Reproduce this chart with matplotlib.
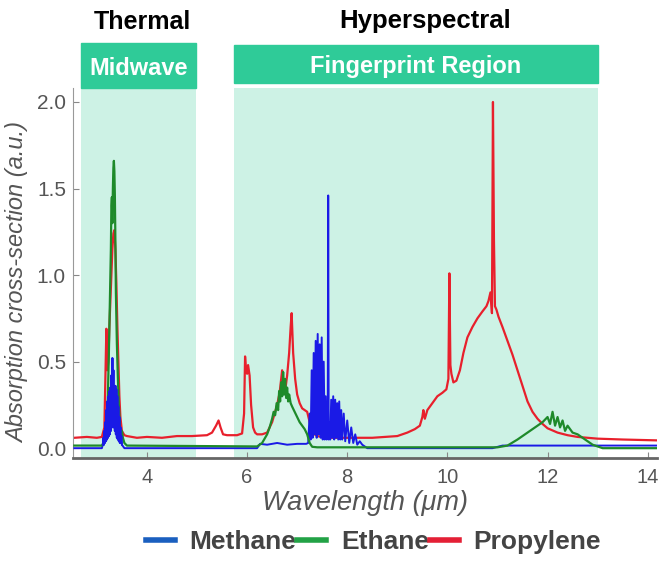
import matplotlib
matplotlib.use("Agg")
import matplotlib.pyplot as plt
from matplotlib.patches import Rectangle
from matplotlib.lines import Line2D
import matplotlib.transforms as mtransforms

plt.rcParams['font.family'] = ['Liberation Sans', 'DejaVu Sans']

# --- data (wavelength in um, cross-section in a.u.) ---
methane_x = [2.55, 3.10, 3.12, 3.13, 3.14, 3.15, 3.16, 3.17, 3.18, 3.19, 3.20, 3.21, 3.22, 3.23,
             3.24, 3.25, 3.26, 3.27, 3.28, 3.29, 3.30, 3.31, 3.32, 3.33, 3.34, 3.35, 3.36, 3.37,
             3.38, 3.39, 3.40, 3.41, 3.42, 3.43, 3.44, 3.45, 3.46, 3.47, 3.48, 3.49, 3.50, 3.55,
             6.20, 6.26, 6.40, 6.60, 6.80, 7.00, 7.18, 7.22, 7.25, 7.27, 7.29, 7.31, 7.33, 7.35,
             7.37, 7.39, 7.41, 7.43, 7.45, 7.47, 7.49, 7.51, 7.53, 7.55, 7.57, 7.59, 7.61,
             7.62, 7.63, 7.64, 7.66, 7.68, 7.70, 7.72, 7.74, 7.76, 7.78, 7.80, 7.82, 7.84,
             7.86, 7.88, 7.90, 7.93, 7.96, 8.00, 8.04, 8.08, 8.12, 8.16, 8.20, 8.25, 8.30,
             8.40, 10.9, 11.1, 14.2]
methane_y = [0.000, 0.000, 0.020, 0.060, 0.020, 0.100, 0.030, 0.150, 0.040, 0.220, 0.050, 0.270, 0.060, 0.300,
             0.070, 0.330, 0.080, 0.350, 0.100, 0.420, 0.120, 0.520, 0.150, 0.450, 0.120, 0.330, 0.100, 0.360,
             0.080, 0.340, 0.060, 0.300, 0.050, 0.240, 0.040, 0.180, 0.030, 0.120, 0.030, 0.070, 0.020, 0.000,
             0.000, 0.025, 0.020, 0.030, 0.020, 0.025, 0.025, 0.030, 0.200, 0.050, 0.450, 0.060, 0.550, 0.080,
             0.620, 0.060, 0.660, 0.080, 0.600, 0.060, 0.640, 0.050, 0.500, 0.050, 0.300, 0.050, 0.100,
             1.460, 0.050, 0.150, 0.050, 0.280, 0.060, 0.300, 0.050, 0.280, 0.060, 0.260, 0.050, 0.270,
             0.050, 0.220, 0.050, 0.200, 0.040, 0.160, 0.030, 0.120, 0.030, 0.080, 0.020, 0.040, 0.020,
             0.000, 0.000, 0.015, 0.015]

ethane_x = [2.55, 3.10, 3.15, 3.18, 3.20, 3.22, 3.24, 3.26, 3.28, 3.29, 3.30, 3.31, 3.32, 3.33,
            3.34, 3.35, 3.36, 3.37, 3.38, 3.40, 3.42, 3.44, 3.46, 3.48, 3.50, 3.52, 3.55, 3.60,
            6.20, 6.30, 6.40, 6.45, 6.50, 6.53, 6.56, 6.59, 6.62, 6.64, 6.66, 6.68, 6.70, 6.72,
            6.74, 6.76, 6.78, 6.80, 6.82, 6.84, 6.87, 6.90, 6.95, 7.00, 7.05, 7.10, 7.15, 7.20,
            7.25, 7.30, 7.40,
            11.0, 11.2, 11.4, 11.6, 11.8, 11.9, 12.0, 12.05, 12.1, 12.15, 12.2, 12.25, 12.3,
            12.35, 12.4, 12.5, 12.6, 12.7, 12.8, 12.9, 13.0, 13.1, 14.2]
ethane_y = [0.015, 0.015, 0.040, 0.080, 0.150, 0.300, 0.550, 0.850, 1.150, 1.400, 1.450, 1.300, 1.500, 1.620,
            1.660, 1.600, 1.450, 1.200, 0.900, 0.600, 0.400, 0.250, 0.120, 0.080, 0.100, 0.060, 0.030, 0.015,
            0.010, 0.030, 0.080, 0.120, 0.170, 0.210, 0.190, 0.260, 0.220, 0.330, 0.270, 0.380, 0.300, 0.440,
            0.310, 0.400, 0.290, 0.350, 0.270, 0.310, 0.260, 0.240, 0.210, 0.180, 0.150, 0.130, 0.110, 0.080,
            0.030, 0.008, 0.005,
            0.005, 0.015, 0.050, 0.090, 0.130, 0.150, 0.180, 0.140, 0.210, 0.130, 0.180, 0.120, 0.160,
            0.100, 0.130, 0.090, 0.080, 0.060, 0.040, 0.020, 0.010, 0.000, 0.000]

propylene_x = [2.55, 2.80, 3.00, 3.10, 3.15, 3.17, 3.19, 3.21, 3.23, 3.25, 3.27, 3.29, 3.31, 3.33,
               3.35, 3.37, 3.39, 3.41, 3.43, 3.45, 3.47, 3.50, 3.55, 3.60, 3.80, 4.00, 4.30, 4.60,
               4.90, 5.20, 5.30, 5.38, 5.43, 5.47, 5.52, 5.60, 5.80, 5.90, 5.94, 5.96, 5.98, 6.00,
               6.02, 6.05, 6.08, 6.12, 6.16, 6.20, 6.30, 6.40, 6.45, 6.50, 6.55, 6.60, 6.65, 6.70,
               6.73, 6.76, 6.80, 6.84, 6.87, 6.89, 6.92, 6.96, 7.00, 7.05, 7.10, 7.15, 7.20, 7.25,
               7.30, 7.40, 7.60, 8.00, 8.50, 9.00, 9.20, 9.35, 9.45, 9.50, 9.52, 9.55, 9.60, 9.70,
               9.80, 9.90, 9.98, 10.02, 10.04, 10.06, 10.08, 10.12, 10.18, 10.25, 10.32, 10.40, 10.50,
               10.60, 10.70, 10.78, 10.82, 10.86, 10.89, 10.91, 10.93, 10.95, 10.98, 11.02, 11.10,
               11.20, 11.30, 11.40, 11.50, 11.60, 11.70, 11.80, 11.90, 12.00, 12.20, 12.40, 12.60,
               12.80, 13.00, 13.50, 14.20]
propylene_y = [0.060, 0.065, 0.060, 0.065, 0.120, 0.400, 0.690, 0.450, 0.500, 0.700, 0.850, 1.000, 1.150, 1.240,
               1.260, 1.150, 0.950, 0.700, 0.500, 0.300, 0.180, 0.100, 0.075, 0.070, 0.060, 0.065, 0.060, 0.070,
               0.070, 0.075, 0.090, 0.130, 0.160, 0.120, 0.080, 0.075, 0.075, 0.085, 0.200, 0.530, 0.450, 0.430,
               0.480, 0.420, 0.250, 0.120, 0.090, 0.080, 0.080, 0.090, 0.120, 0.150, 0.200, 0.250, 0.320, 0.450,
               0.380, 0.330, 0.420, 0.550, 0.700, 0.780, 0.550, 0.400, 0.310, 0.260, 0.230, 0.220, 0.210, 0.150,
               0.090, 0.070, 0.060, 0.060, 0.060, 0.070, 0.090, 0.110, 0.130, 0.180, 0.220, 0.170, 0.220, 0.260,
               0.300, 0.320, 0.340, 0.400, 1.010, 0.480, 0.430, 0.380, 0.390, 0.450, 0.550, 0.640, 0.700,
               0.750, 0.790, 0.820, 0.850, 0.900, 0.780, 2.000, 1.200, 0.820, 0.800, 0.760, 0.700,
               0.620, 0.540, 0.450, 0.360, 0.270, 0.210, 0.170, 0.140, 0.115, 0.090, 0.075, 0.065,
               0.060, 0.055, 0.050, 0.045]

bands = [(2.69, 4.97, "Midwave"), (5.74, 13.01, "Fingerprint Region")]

fig = plt.figure(figsize=(6.62, 5.65), dpi=100)
ax = fig.add_axes([0.110, 0.189, 0.882, 0.655])

shade = '#cdf2e5'
header = '#2fcb98'
for x0, x1, name in bands:
    ax.axvspan(x0, x1, color=shade, zorder=0, lw=0)

ax.plot(propylene_x, propylene_y, color='#e8202c', lw=1.6, zorder=2)
ax.plot(methane_x, methane_y, color='#1a1ae6', lw=1.4, zorder=3)
ax.plot(ethane_x, ethane_y, color='#1e8a2a', lw=1.6, zorder=4)
# methane band near 3.3 um sits on top of the ethane line
ax.plot(methane_x[2:41], methane_y[2:41], color='#1a1ae6', lw=1.4, zorder=5)

ax.set_xlim(2.52, 14.18)
ax.set_ylim(-0.058, 2.08)
ax.set_xticks([4, 6, 8, 10, 12, 14])
ax.set_yticks([0.0, 0.5, 1.0, 1.5, 2.0])
ax.tick_params(direction='in', length=4, colors='#888888', labelcolor='#555555', labelsize=15)
ax.tick_params(axis='x', pad=7, labelsize=14.5)
ax.tick_params(axis='y', pad=5)
for s in ['top', 'right']:
    ax.spines[s].set_visible(False)
ax.spines['left'].set_color('#999999')
ax.spines['bottom'].set_color('#666666')
ax.spines['bottom'].set_linewidth(2)

ax.set_xlabel('Wavelength (\u03bcm)', fontsize=19.5, style='italic', color='#555555', labelpad=2)
ax.set_ylabel('Absorption cross-section (a.u.)', fontsize=17, style='italic', color='#555555')
ax.yaxis.set_label_coords(-0.075, 0.476)

# header boxes above the shaded bands
trans = mtransforms.blended_transform_factory(ax.transData, fig.transFigure)
box_y = {"Midwave": (0.844, 0.924), "Fingerprint Region": (0.853, 0.920)}
label_base = {"Midwave": 0.867, "Fingerprint Region": 0.871}
for x0, x1, name in bands:
    y0, y1 = box_y[name]
    ax.add_patch(Rectangle((x0, y0), x1 - x0, y1 - y0, transform=trans, color=header,
                           clip_on=False, zorder=6))
    ax.text((x0 + x1) / 2, label_base[name], name, transform=trans, ha='center', va='baseline',
            color='white', fontsize=17, fontweight='bold', zorder=7)

fig.text(0.2145, 0.948, 'Thermal', ha='center', va='baseline', fontsize=18, fontweight='bold')
fig.text(0.642, 0.950, 'Hyperspectral', ha='center', va='baseline', fontsize=18.5, fontweight='bold')

handles = [Line2D([], [], color='#1a5fbf', lw=4),
           Line2D([], [], color='#22a246', lw=4),
           Line2D([], [], color='#e41f35', lw=4)]
leg = fig.legend(handles, ['Methane', 'Ethane', 'Propylene'], loc='center', bbox_to_anchor=(0.564, 0.040),
                 ncol=3, frameon=False, handlelength=1.1, handletextpad=0.55, columnspacing=0.05,
                 prop={'size': 19, 'weight': 'bold'})
for t in leg.get_texts():
    t.set_color('#444444')

fig.savefig('out.png', dpi=100)
